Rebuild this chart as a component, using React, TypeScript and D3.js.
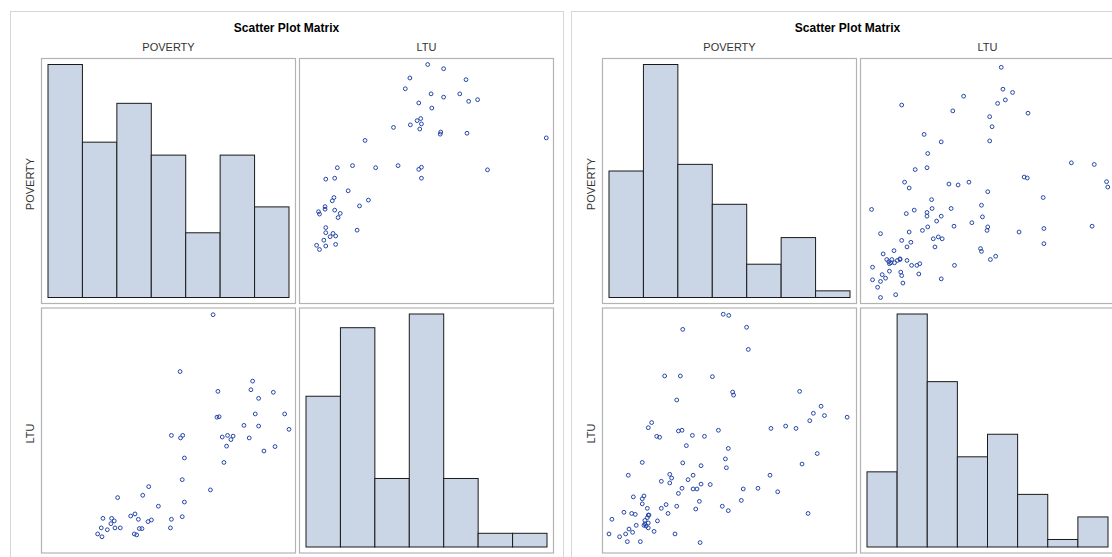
import * as d3 from "d3";

// variable names, in matrix order
const variables = ["POVERTY", "LTU"];

// left matrix: scatter values (0-100 along each axis)
const leftPoverty = [
  68.5, 54.8, 84.9, 84.2, 93.5, 70.5, 87.4, 86.0, 98.2, 70.1, 71.0, 81.3, 87.4, 100,
  51.2, 55.9, 55.0, 72.3, 74.5, 76.8, 75.9, 83.5, 74.1, 94.2, 89.6, 56.6, 73.0, 55.7,
  67.4, 41.8, 39.3, 28.9, 56.6, 45.8, 36.1, 34.3, 37.5, 42.9, 41.5, 51.2, 55.7, 22.8,
  26.4, 27.5, 26.1, 22.1, 24.6, 27.8, 30.0, 37.9, 39.0, 50.8, 20.6, 22.4, 35.8, 36.8,
];
const leftLtu = [
  99.7, 75.3, 71.2, 67.5, 66.4, 66.8, 63.8, 57.1, 57.1, 55.7, 55.9, 52.2, 51.9, 50.5,
  47.9, 47.9, 46.8, 47.2, 47.9, 47.6, 46.1, 46.8, 43.3, 43.1, 41.2, 38.2, 36.3, 28.9,
  24.5, 25.9, 22.2, 21.2, 19.3, 17.5, 14.2, 13.3, 11.9, 11.6, 10.9, 11.9, 13.0, 12.3,
  12.3, 11.2, 10.0, 8.2, 7.4, 8.2, 8.2, 7.9, 7.9, 8.2, 5.6, 4.4, 5.6, 5.2,
];
const leftPovertyCounts = [18, 12, 15, 11, 5, 11, 7];
const leftLtuCounts = [11, 16, 5, 17, 5, 1, 1];

// right matrix
const rightPoverty = [
  47.4, 49.7, 30.6, 57.1, 57.8, 23.1, 29.6, 42.9, 79.1, 51.3, 51.7, 28.1, 88.0, 84.8,
  89.4, 98.8, 83.3, 17.7, 16.3, 67.2, 73.3, 77.6, 28.8, 30.3, 45.4, 19.8, 21.0, 34.6,
  39.6, 32.1, 49.5, 86.4, 13.8, 30.6, 38.2, 80.1, 48.3, 48.7, 8.0, 25.2, 26.0, 34.9,
  66.8, 32.8, 21.7, 25.2, 38.2, 42.0, 30.3, 34.9, 36.5, 55.7, 61.8, 70.0, 28.8, 14.5,
  13.8, 10.1, 54.9, 13.8, 23.7, 28.1, 37.5, 47.0, 15.9, 21.7, 36.0, 49.5, 6.2, 9.4,
  10.9, 24.5, 82.6, 16.6, 15.9, 1.2, 14.9, 20.1, 16.3, 11.3, 14.5, 15.4, 16.3, 8.3,
  9.8, 18.7, 6.9, 0.0, 27.4, 4.4, 7.6, 13.0, 37.8, 16.3, 14.9,
];
const rightLtu = [
  99.9, 99.4, 93.4, 94.3, 84.8, 73.4, 73.4, 73.1, 66.8, 66.5, 65.2, 63.1, 60.4, 57.4,
  56.4, 55.7, 54.2, 53.4, 51.2, 50.9, 51.9, 50.9, 49.8, 50.1, 50.1, 47.5, 47.1, 47.9,
  47.5, 43.5, 42.3, 40.1, 36.3, 36.1, 34.9, 35.6, 37.8, 34.0, 30.8, 31.2, 29.6, 30.8,
  30.8, 28.9, 28.2, 27.5, 27.0, 26.8, 25.2, 24.9, 24.9, 24.9, 25.2, 23.7, 23.0, 21.9,
  20.7, 21.5, 20.0, 18.5, 18.2, 17.5, 19.6, 17.5, 16.6, 16.6, 16.3, 15.6, 14.9, 14.4,
  14.0, 14.4, 14.4, 13.7, 12.6, 11.9, 11.4, 11.2, 10.3, 9.3, 9.3, 9.0, 8.2, 7.7,
  6.3, 6.7, 5.6, 5.6, 5.6, 4.4, 2.3, 2.3, 1.9, 13.7, 9.9,
];
const rightPovertyCounts = [19, 35, 20, 14, 5, 9, 1];
const rightLtuCounts = [10, 31, 22, 12, 15, 7, 1, 4];

const font = "Arial, 'Liberation Sans', Helvetica, sans-serif";
const cellW = 255;
const cellH = 246;
const padX = 7;
const padY = 6.5;

function Matrix({ x0, pov, ltu, counts }: { x0: number; pov: number[]; ltu: number[]; counts: number[][] }) {
  const cols = [x0 + 31, x0 + 289];
  const rows = [58, 307.5];
  const values = [pov, ltu];
  const centerX = x0 + 276.5;

  return (
    <g>
      <rect x={x0 + 0.5} y={11.5} width={553} height={560} fill="#fff" stroke="#d6d6d6" />
      <text x={centerX} y={32} textAnchor="middle" fontFamily={font} fontSize={12} fontWeight="bold" fill="#000">
        Scatter Plot Matrix
      </text>
      {variables.map((v, j) => (
        <text key={"c" + v} x={cols[j] + cellW / 2} y={51} textAnchor="middle" fontFamily={font} fontSize={11} fill="#333">
          {v}
        </text>
      ))}
      {variables.map((v, i) => (
        <text
          key={"r" + v}
          transform={`translate(${x0 + 24},${rows[i] + cellH / 2 + 3}) rotate(-90)`}
          textAnchor="middle"
          fontFamily={font}
          fontSize={11}
          fill="#333"
        >
          {v}
        </text>
      ))}
      {rows.map((ry, i) =>
        cols.map((cx, j) => {
          const xs = d3.scaleLinear().domain([0, 100]).range([cx + padX, cx + cellW - padX]);
          const ys = d3.scaleLinear().domain([0, 100]).range([ry + cellH - padY, ry + padY]);
          let content;
          if (i === j) {
            const c = counts[i];
            const bx = d3.scaleLinear().domain([0, c.length]).range([cx + padX, cx + cellW - padX]);
            const by = d3.scaleLinear().domain([0, d3.max(c) as number]).range([ry + cellH - padY, ry + padY]);
            content = c.map((n, k) => (
              <rect
                key={k}
                x={bx(k)}
                y={by(n)}
                width={bx(k + 1) - bx(k)}
                height={by(0) - by(n)}
                fill="#cad5e5"
                stroke="#1a1a1a"
                strokeWidth={1}
              />
            ));
          } else {
            const xv = values[j];
            const yv = values[i];
            content = xv.map((d, k) => (
              <circle key={k} cx={xs(d)} cy={ys(yv[k])} r={1.9} fill="none" stroke="#2446a8" strokeWidth={1} />
            ));
          }
          return (
            <g key={i + "-" + j}>
              <rect x={cx + 0.5} y={ry + 0.5} width={cellW - 1} height={cellH - 1} fill="#fff" stroke="#b3b3b3" strokeWidth={1.2} />
              {content}
            </g>
          );
        })
      )}
    </g>
  );
}

export default function App() {
  return (
    <svg width={1112} height={557} style={{ position: "absolute", left: 0, top: 0, background: "#fff" }}>
      <rect width={1112} height={557} fill="#fff" />
      <Matrix x0={10} pov={leftPoverty} ltu={leftLtu} counts={[leftPovertyCounts, leftLtuCounts]} />
      <Matrix x0={571} pov={rightPoverty} ltu={rightLtu} counts={[rightPovertyCounts, rightLtuCounts]} />
    </svg>
  );
}
